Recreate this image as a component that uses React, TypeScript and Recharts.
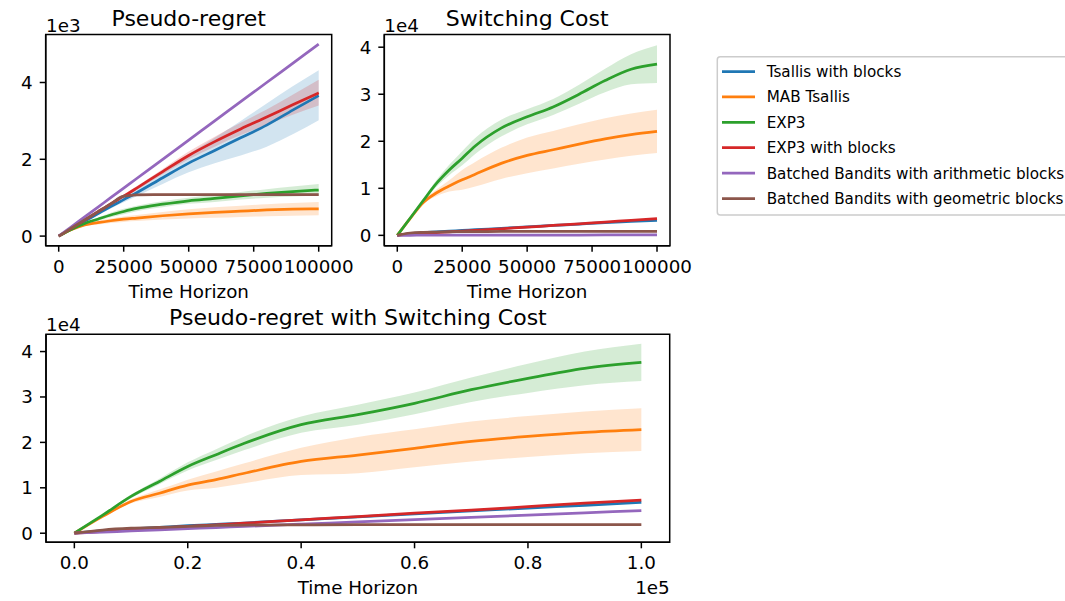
import React from 'react';
import { ComposedChart, Line, Area, XAxis, YAxis, ReferenceArea } from 'recharts';

const FONT = '"DejaVu Sans", sans-serif';

// shared time grid
const X = [0, 5000, 10000, 15000, 20000, 25000, 30000, 40000, 50000, 60000, 70000, 80000, 90000, 100000];

const SERIES_NAMES = [
  'Tsallis with blocks',
  'MAB Tsallis',
  'EXP3',
  'EXP3 with blocks',
  'Batched Bandits with arithmetic blocks',
  'Batched Bandits with geometric blocks',
];
const SERIES_KEYS = ['tsallisBlocks', 'mabTsallis', 'exp3', 'exp3Blocks', 'batchedArith', 'batchedGeo'];
const SERIES_COLORS = ['#1f77b4', '#ff7f0e', '#2ca02c', '#d62728', '#9467bd', '#8c564b'];

// ---- Pseudo-regret ----
const regretTsallisBlocks = [0, 200, 390, 580, 770, 950, 1130, 1520, 1900, 2230, 2560, 2890, 3280, 3660];
const regretTsallisBlocksLo = [0, 190, 370, 540, 720, 880, 1040, 1360, 1660, 1900, 2100, 2330, 2650, 3020];
const regretTsallisBlocksHi = [0, 210, 410, 620, 820, 1020, 1220, 1660, 2130, 2560, 3000, 3450, 3900, 4320];
const regretMabTsallis = [0, 170, 290, 350, 400, 440, 470, 530, 580, 620, 650, 680, 700, 710];
const regretMabTsallisLo = [0, 160, 260, 300, 340, 370, 390, 430, 460, 480, 500, 520, 530, 540];
const regretMabTsallisHi = [0, 180, 320, 400, 460, 510, 550, 630, 700, 750, 790, 830, 860, 890];
const regretExp3 = [0, 180, 330, 440, 550, 640, 720, 830, 920, 980, 1050, 1110, 1160, 1200];
const regretExp3Lo = [0, 170, 300, 400, 490, 570, 650, 750, 840, 890, 950, 1000, 1030, 1050];
const regretExp3Hi = [0, 190, 360, 480, 610, 710, 790, 910, 1000, 1070, 1150, 1220, 1290, 1360];
const regretExp3Blocks = [0, 210, 420, 630, 840, 1040, 1250, 1680, 2100, 2460, 2790, 3100, 3420, 3730];
const regretExp3BlocksLo = [0, 205, 410, 610, 810, 1000, 1200, 1610, 2000, 2330, 2630, 2900, 3160, 3400];
const regretExp3BlocksHi = [0, 215, 430, 650, 870, 1080, 1300, 1750, 2200, 2590, 2950, 3300, 3680, 4070];
const regretBatchedArith = [0, 250, 500, 750, 1000, 1250, 1500, 2000, 2500, 3000, 3500, 4000, 4500, 5000];
const regretBatchedGeo = [0, 210, 420, 630, 840, 1040, 1075, 1080, 1080, 1080, 1080, 1080, 1080, 1080];
const regretBatchedGeoLo = [0, 200, 400, 600, 810, 1010, 1045, 1050, 1050, 1050, 1050, 1050, 1050, 1050];
const regretBatchedGeoHi = [0, 220, 440, 660, 870, 1070, 1105, 1110, 1110, 1110, 1110, 1110, 1110, 1110];

// ---- Switching cost ----
const switchTsallisBlocks = [0, 350, 550, 750, 900, 1050, 1200, 1500, 1800, 2100, 2400, 2700, 2950, 3200];
const switchMabTsallis = [0, 3600, 7000, 9000, 10500, 11800, 13000, 15300, 17000, 18200, 19400, 20500, 21400, 22100];
const switchMabTsallisSpread = [0, 200, 400, 700, 1200, 2100, 2600, 3300, 3800, 4000, 4200, 4400, 4500, 4600];
const switchExp3 = [0, 3700, 7400, 11000, 13900, 16400, 19000, 22800, 25200, 27300, 30000, 32900, 35300, 36400];
const switchExp3Spread = [0, 200, 400, 700, 1100, 1500, 1700, 1800, 1600, 1700, 2000, 2500, 3200, 4000];
const switchExp3Blocks = [0, 300, 450, 600, 750, 900, 1050, 1400, 1750, 2100, 2450, 2800, 3200, 3550];
const switchBatchedArith = [0, 20, 30, 35, 40, 45, 50, 55, 60, 65, 70, 75, 80, 80];
const switchBatchedGeo = [0, 500, 650, 700, 750, 780, 800, 820, 830, 840, 840, 850, 850, 850];

// ---- Pseudo-regret with switching cost ----
const totalTsallisBlocks = [0, 550, 950, 1300, 1650, 1950, 2250, 2950, 3600, 4250, 4900, 5550, 6150, 6800];
const totalMabTsallis = [0, 3700, 7000, 8800, 10600, 11800, 13200, 15800, 17200, 18700, 20200, 21300, 22200, 22800];
const totalMabTsallisSpread = [0, 200, 400, 800, 1200, 1800, 2200, 3000, 4000, 4200, 4400, 4500, 4600, 4700];
const totalExp3 = [0, 4000, 8100, 11400, 14700, 17300, 19800, 23900, 26100, 28600, 31600, 34100, 36300, 37600];
const totalExp3Spread = [0, 200, 400, 600, 900, 1200, 1500, 1800, 2200, 2400, 2700, 3200, 3700, 4100];
const totalExp3Blocks = [0, 400, 800, 1150, 1500, 1850, 2200, 2950, 3650, 4400, 5100, 5850, 6600, 7300];
const totalBatchedArith = [0, 250, 500, 750, 1000, 1250, 1500, 2000, 2500, 3000, 3500, 4000, 4500, 5000];
const totalBatchedGeo = [0, 700, 1100, 1300, 1500, 1700, 1800, 1850, 1880, 1880, 1880, 1890, 1900, 1900];

// tick values
const X_TICKS_TOP = [0, 25000, 50000, 75000, 100000];
const X_TICKS_BOTTOM = [0, 20000, 40000, 60000, 80000, 100000];
const Y_TICKS_REGRET = [0, 2000, 4000];
const Y_TICKS_1E4 = [0, 10000, 20000, 30000, 40000];

type Row = Record<string, any>;

const regretRows: Row[] = X.map((x, i) => ({
  x,
  tsallisBlocks: regretTsallisBlocks[i],
  mabTsallis: regretMabTsallis[i],
  exp3: regretExp3[i],
  exp3Blocks: regretExp3Blocks[i],
  batchedArith: regretBatchedArith[i],
  batchedGeo: regretBatchedGeo[i],
  tsallisBlocksBand: [regretTsallisBlocksLo[i], regretTsallisBlocksHi[i]],
  mabTsallisBand: [regretMabTsallisLo[i], regretMabTsallisHi[i]],
  exp3Band: [regretExp3Lo[i], regretExp3Hi[i]],
  exp3BlocksBand: [regretExp3BlocksLo[i], regretExp3BlocksHi[i]],
  batchedGeoBand: [regretBatchedGeoLo[i], regretBatchedGeoHi[i]],
}));

const switchRows: Row[] = X.map((x, i) => ({
  x,
  tsallisBlocks: switchTsallisBlocks[i],
  mabTsallis: switchMabTsallis[i],
  exp3: switchExp3[i],
  exp3Blocks: switchExp3Blocks[i],
  batchedArith: switchBatchedArith[i],
  batchedGeo: switchBatchedGeo[i],
  mabTsallisBand: [switchMabTsallis[i] - switchMabTsallisSpread[i], switchMabTsallis[i] + switchMabTsallisSpread[i]],
  exp3Band: [switchExp3[i] - switchExp3Spread[i], switchExp3[i] + switchExp3Spread[i]],
}));

const totalRows: Row[] = X.map((x, i) => ({
  x,
  tsallisBlocks: totalTsallisBlocks[i],
  mabTsallis: totalMabTsallis[i],
  exp3: totalExp3[i],
  exp3Blocks: totalExp3Blocks[i],
  batchedArith: totalBatchedArith[i],
  batchedGeo: totalBatchedGeo[i],
  mabTsallisBand: [totalMabTsallis[i] - totalMabTsallisSpread[i], totalMabTsallis[i] + totalMabTsallisSpread[i]],
  exp3Band: [totalExp3[i] - totalExp3Spread[i], totalExp3[i] + totalExp3Spread[i]],
}));

const X_DOMAIN: [number, number] = [-5000, 105000];
const TICK_FONT = 18.3;

type PanelProps = {
  left: number;
  top: number;
  width: number;
  height: number;
  plotLeft: number;
  plotRight: number;
  plotTop: number;
  plotBottom: number;
  rows: Row[];
  yDomain: [number, number];
  yTicks: number[];
  yDiv: number;
  xTicks: number[];
  xFmt: (v: number) => string;
  bandKeys: string[];
};

function Panel(p: PanelProps) {
  const xAxisH = 30;
  const margin = {
    top: p.plotTop,
    left: 0,
    right: p.width - p.plotRight,
    bottom: p.height - p.plotBottom - xAxisH,
  };
  const items: React.ReactNode[] = [];
  SERIES_KEYS.forEach((k, i) => {
    if (p.bandKeys.includes(k)) {
      items.push(
        <Area
          key={k + 'band'}
          dataKey={k + 'Band'}
          type="monotone"
          stroke="none"
          fill={SERIES_COLORS[i]}
          fillOpacity={0.2}
          isAnimationActive={false}
          activeDot={false}
          dot={false}
        />
      );
    }
    items.push(
      <Line
        key={k}
        dataKey={k}
        type="monotone"
        stroke={SERIES_COLORS[i]}
        strokeWidth={2.75}
        dot={false}
        activeDot={false}
        isAnimationActive={false}
      />
    );
  });
  return (
    <div style={{ position: 'absolute', left: p.left, top: p.top }}>
      <ComposedChart width={p.width} height={p.height} data={p.rows} margin={margin}>
        <XAxis
          dataKey="x"
          type="number"
          domain={X_DOMAIN}
          ticks={p.xTicks}
          tickFormatter={p.xFmt}
          allowDataOverflow
          interval={0}
          height={xAxisH}
          tickSize={6}
          tickMargin={8}
          axisLine={{ stroke: '#000', strokeWidth: 1.5 }}
          tickLine={{ stroke: '#000', strokeWidth: 1.5 }}
          tick={{ fill: '#000', fontSize: TICK_FONT, fontFamily: FONT }}
        />
        <YAxis
          type="number"
          domain={p.yDomain}
          ticks={p.yTicks}
          tickFormatter={(v: number) => String(v / p.yDiv)}
          allowDataOverflow
          interval={0}
          width={p.plotLeft}
          tickSize={6}
          tickMargin={7}
          axisLine={{ stroke: '#000', strokeWidth: 1.5 }}
          tickLine={{ stroke: '#000', strokeWidth: 1.5 }}
          tick={{ fill: '#000', fontSize: TICK_FONT, fontFamily: FONT }}
        />
        <ReferenceArea
          x1={X_DOMAIN[0]}
          x2={X_DOMAIN[1]}
          y1={p.yDomain[0]}
          y2={p.yDomain[1]}
          fill="none"
          fillOpacity={0}
          stroke="#000"
          strokeWidth={1.5}
          ifOverflow="visible"
        />
        {items}
      </ComposedChart>
    </div>
  );
}

const LEGEND_ROWS_Y = [71.7, 96.9, 122.3, 147.7, 173.2, 198.6];
const LEGEND_FONT = 15.2;

export default function App() {
  return (
    <div
      style={{
        position: 'absolute',
        left: 0,
        top: 0,
        width: 1065,
        height: 601,
        overflow: 'hidden',
        background: '#fff',
      }}
    >
      <Panel
        left={0}
        top={0}
        width={385}
        height={300}
        plotLeft={45.7}
        plotRight={331.7}
        plotTop={34.5}
        plotBottom={245.7}
        rows={regretRows}
        yDomain={[-250, 5250]}
        yTicks={Y_TICKS_REGRET}
        yDiv={1000}
        xTicks={X_TICKS_TOP}
        xFmt={(v) => String(v)}
        bandKeys={['tsallisBlocks', 'mabTsallis', 'exp3', 'exp3Blocks', 'batchedGeo']}
      />
      <div style={{ position: 'absolute', left: 340, top: 0 }}>
        <Panel
          left={0}
          top={0}
          width={385}
          height={300}
          plotLeft={44.3}
          plotRight={330}
          plotTop={34.5}
          plotBottom={245.7}
          rows={switchRows}
          yDomain={[-2200, 42700]}
          yTicks={Y_TICKS_1E4}
          yDiv={10000}
          xTicks={X_TICKS_TOP}
          xFmt={(v) => String(v)}
          bandKeys={['mabTsallis', 'exp3']}
        />
      </div>
      <div style={{ position: 'absolute', left: 0, top: 300 }}>
        <Panel
          left={0}
          top={0}
          width={700}
          height={301}
          plotLeft={46}
          plotRight={669.7}
          plotTop={34.3}
          plotBottom={242.3}
          rows={totalRows}
          yDomain={[-2000, 43800]}
          yTicks={Y_TICKS_1E4}
          yDiv={10000}
          xTicks={X_TICKS_BOTTOM}
          xFmt={(v) => (v / 100000).toFixed(1)}
          bandKeys={['mabTsallis', 'exp3']}
        />
      </div>
      <svg
        width={1065}
        height={601}
        style={{ position: 'absolute', left: 0, top: 0, pointerEvents: 'none' }}
        fontFamily={FONT}
      >
        <text x={188.7} y={25.7} fontSize={22} textAnchor="middle" fill="#000">Pseudo-regret</text>
        <text x={527.2} y={25.7} fontSize={22} textAnchor="middle" fill="#000">Switching Cost</text>
        <text x={357.9} y={325.3} fontSize={22} textAnchor="middle" fill="#000">Pseudo-regret with Switching Cost</text>
        <text x={46} y={31.7} fontSize={TICK_FONT} fill="#000">1e3</text>
        <text x={384.3} y={31.7} fontSize={TICK_FONT} fill="#000">1e4</text>
        <text x={46} y={331} fontSize={TICK_FONT} fill="#000">1e4</text>
        <text x={669.7} y={594.3} fontSize={TICK_FONT} textAnchor="end" fill="#000">1e5</text>
        <text x={188.7} y={297.5} fontSize={TICK_FONT} textAnchor="middle" fill="#000">Time Horizon</text>
        <text x={527.2} y={297.5} fontSize={TICK_FONT} textAnchor="middle" fill="#000">Time Horizon</text>
        <text x={357.9} y={594.3} fontSize={TICK_FONT} textAnchor="middle" fill="#000">Time Horizon</text>
        <rect x={717.3} y={56.7} width={400} height={158.3} rx={3} fill="#fff" fillOpacity={0.8} stroke="#cccccc" strokeWidth={1.5} />
        {SERIES_NAMES.map((name, i) => (
          <g key={name}>
            <line x1={722} x2={755} y1={LEGEND_ROWS_Y[i]} y2={LEGEND_ROWS_Y[i]} stroke={SERIES_COLORS[i]} strokeWidth={2.75} />
            <text x={766.7} y={LEGEND_ROWS_Y[i] + 5.5} fontSize={LEGEND_FONT} fill="#000">{name}</text>
          </g>
        ))}
      </svg>
    </div>
  );
}
